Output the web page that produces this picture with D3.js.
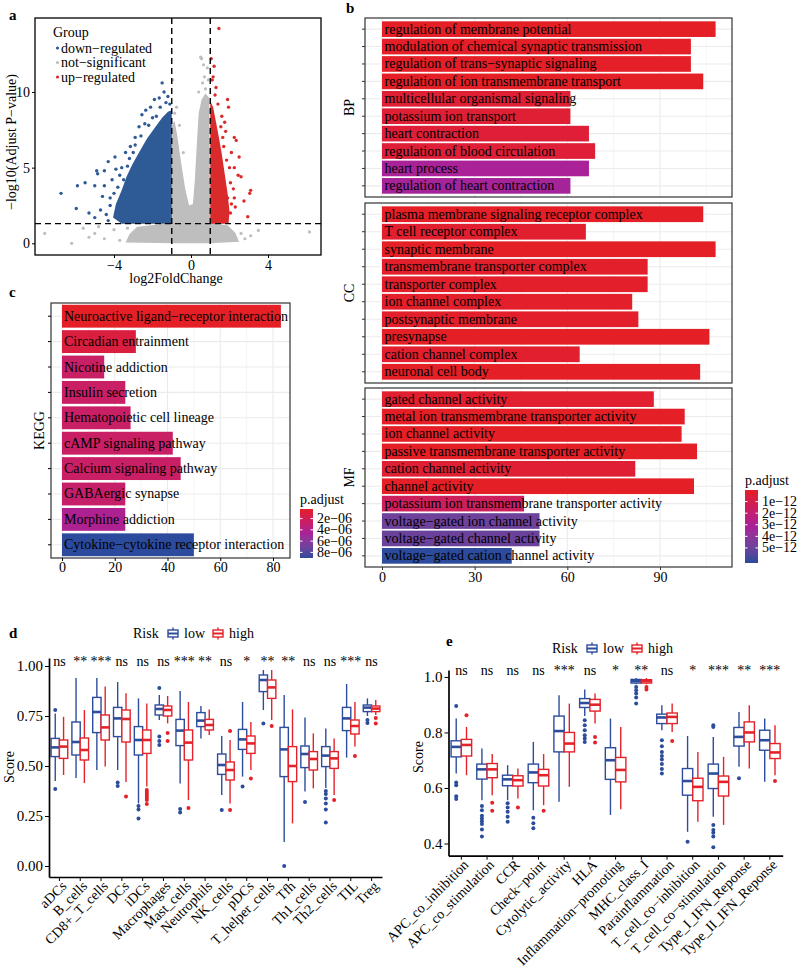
<!DOCTYPE html>
<html>
<head>
<meta charset="utf-8">
<script src="https://cdn.jsdelivr.net/npm/d3@7"></script>
<style>
  body { margin: 0; background: #fff; }
</style>
</head>
<body>
<div id="fig"></div>
<script>
// ---------- data ----------
// panel a: volcano (log2FC, -log10 padj)
var volcanoXTicks = [-4, 0, 4];
var volcanoYTicks = [0, 5, 10];
var padjCut = 1.301;
var fcCut = 1;
// dense clouds, outlined
var nsCloud = [[-3.4,0.05],[-3.2,0.6],[-2.8,1.1],[-1.0,1.35],[-1.0,7.8],[-0.85,8.1],[-0.7,7.0],[-0.5,5.2],[-0.3,3.6],[-0.1,2.5],[0.1,2.6],[0.2,4.2],[0.3,6.5],[0.4,8.6],[0.55,9.5],[0.75,9.9],[0.95,9.6],[1.0,1.35],[1.9,1.2],[2.3,0.7],[2.5,0.1],[1.0,0.0],[-1.0,0.0]];
var downCloud = [[-1.0,1.3],[-3.6,1.3],[-4.05,1.7],[-3.9,2.6],[-3.6,3.5],[-3.35,4.4],[-3.05,5.2],[-2.7,6.0],[-2.3,6.9],[-1.9,7.6],[-1.5,8.3],[-1.2,8.7],[-1.0,8.8]];
var upCloud = [[1.0,1.3],[1.0,9.4],[1.15,9.0],[1.3,8.0],[1.45,7.0],[1.6,5.9],[1.75,4.6],[1.9,3.3],[2.0,2.1],[1.95,1.3]];
// scattered points
var downPoints = [[-6.75,3.3],[-5.9,3.8],[-5.96,2.3],[-5.5,4.0],[-4.9,4.8],[-4.85,4.6],[-4.5,4.8],[-4.3,5.4],[-3.95,5.7],[-3.9,4.9],[-5.0,3.8],[-5.3,2.0],[-5.0,1.7],[-4.6,3.1],[-4.5,3.8],[-4.0,3.3],[-3.4,6.0],[-3.15,6.4],[-2.9,7.0],[-2.55,8.5],[-2.35,8.8],[-1.9,9.5],[-1.5,10.6],[-1.4,10.0],[-1.65,9.6],[-4.7,2.2],[-3.7,2.6],[-3.8,3.7],[-2.7,7.7],[-2.1,9.0],[-4.2,2.5],[-4.4,1.9],[-3.6,5.0],[-3.2,5.6],[-2.4,7.9],[-1.8,8.4],[-1.3,9.3],[-1.2,9.7],[-4.1,4.2],[-3.5,4.2],[-3.0,6.0],[-2.6,7.1],[-2.2,7.8],[-1.6,9.0],[-3.3,5.1],[-3.7,4.5],[-4.2,3.0],[-4.3,1.5],[-2.9,6.5],[-2.0,8.3],[-1.1,9.2],[-3.9,2.0]];
var upPoints = [[1.45,14.2],[1.05,12.2],[1.2,11.7],[1.3,10.3],[1.9,9.5],[1.95,9.0],[2.25,7.0],[2.35,6.8],[2.5,5.7],[2.25,5.0],[2.45,4.5],[2.6,4.4],[3.1,3.5],[3.05,3.3],[2.75,2.8],[2.95,1.75],[2.25,3.0],[2.05,4.0],[1.7,6.4],[1.55,7.7],[1.6,8.4],[2.05,2.0],[1.1,10.8],[1.4,9.2],[1.8,7.4],[2.1,6.0],[2.2,3.6],[2.3,2.4],[1.15,11.0],[1.75,8.0],[1.85,5.5],[2.0,5.0],[1.25,9.8],[1.9,3.0],[2.1,2.6],[1.65,7.0]];
var nsPoints = [[-7.6,0.65],[-6.2,0.0],[-5.6,1.0],[-5.0,0.65],[-4.5,0.3],[-4.0,0.9],[-3.7,0.2],[6.15,0.75],[3.5,0.85],[2.6,0.65],[2.3,0.2],[2.8,0.3],[0.5,12.3],[0.55,12.2],[0.85,11.6],[0.6,10.6],[-0.95,10.8],[-0.75,9.0],[-0.85,8.6],[0.7,11.0],[0.75,10.2],[0.4,10.0],[-4.8,1.1],[-3.3,1.0],[3.1,0.5],[-5.3,0.4],[0.65,11.8],[0.9,10.8],[-0.6,7.8],[-0.4,6.0]];
var groupNames = ['down\u2212regulated', 'not\u2212significant', 'up\u2212regulated'];

// panel b: GO enrichment
var bpTerms = ['regulation of membrane potential', 'modulation of chemical synaptic transmission', 'regulation of trans\u2212synaptic signaling', 'regulation of ion transmembrane transport', 'multicellular organismal signaling', 'potassium ion transport', 'heart contraction', 'regulation of blood circulation', 'heart process', 'regulation of heart contraction'];
var bpCounts = [108, 100, 100, 104, 61, 61, 67, 69, 67, 61];
var bpPadj = [1e-15, 2e-14, 2e-14, 5e-15, 3e-13, 3e-13, 4e-13, 4e-13, 3.1e-12, 3.2e-12];
var ccTerms = ['plasma membrane signaling receptor complex', 'T cell receptor complex', 'synaptic membrane', 'transmembrane transporter complex', 'transporter complex', 'ion channel complex', 'postsynaptic membrane', 'presynapse', 'cation channel complex', 'neuronal cell body'];
var ccCounts = [104, 66, 108, 86, 86, 81, 83, 106, 64, 103];
var ccPadj = [1e-14, 2e-13, 1e-15, 1e-13, 1e-13, 1e-13, 1e-13, 1e-14, 2e-13, 1e-14];
var mfTerms = ['gated channel activity', 'metal ion transmembrane transporter activity', 'ion channel activity', 'passive transmembrane transporter activity', 'cation channel activity', 'channel activity', 'potassium ion transmembrane transporter activity', 'voltage\u2212gated ion channel activity', 'voltage\u2212gated channel activity', 'voltage\u2212gated cation channel activity'];
var mfCounts = [88, 98, 97, 102, 82, 101, 46, 51, 51, 42];
var mfPadj = [2e-13, 1e-14, 1e-14, 1e-14, 3e-13, 1e-14, 1.4e-12, 4.9e-12, 5.0e-12, 6.3e-12];
var goCountTicks = [0, 30, 60, 90];
var goPadjTicks = [1e-12, 2e-12, 3e-12, 4e-12, 5e-12];
var goPadjLabels = ['1e\u221212', '2e\u221212', '3e\u221212', '4e\u221212', '5e\u221212'];

// panel c: KEGG
var keggTerms = ['Neuroactive ligand\u2212receptor interaction', 'Circadian entrainment', 'Nicotine addiction', 'Insulin secretion', 'Hematopoietic cell lineage', 'cAMP signaling pathway', 'Calcium signaling pathway', 'GABAergic synapse', 'Morphine addiction', 'Cytokine\u2212cytokine receptor interaction'];
var keggCounts = [83, 28, 16, 24, 26, 42, 45, 24, 24, 50];
var keggPadj = [3e-7, 1.2e-6, 2.6e-6, 2.6e-6, 2.6e-6, 2.6e-6, 2.6e-6, 2.8e-6, 4.3e-6, 9.0e-6];
var keggCountTicks = [0, 20, 40, 60, 80];
var keggPadjTicks = [2e-6, 4e-6, 6e-6, 8e-6];
var keggPadjLabels = ['2e\u221206', '4e\u221206', '6e\u221206', '8e\u221206'];

// panel d: immune cells, [lower whisker, q1, median, q3, upper whisker, outliers]
var cellTypes = ['aDCs', 'B_cells', 'CD8+_T_cells', 'DCs', 'iDCs', 'Macrophages', 'Mast_cells', 'Neutrophils', 'NK_cells', 'pDCs', 'T_helper_cells', 'Tfh', 'Th1_cells', 'Th2_cells', 'TIL', 'Treg'];
var cellSig = ['ns', '**', '***', 'ns', 'ns', 'ns', '***', '**', 'ns', '*', '**', '**', 'ns', 'ns', '***', 'ns'];
var cellLow = [
  [0.425, 0.547, 0.593, 0.638, 0.763, [0.78, 0.385]],
  [0.44, 0.555, 0.62, 0.72, 0.94, []],
  [0.48, 0.667, 0.77, 0.843, 0.94, []],
  [0.48, 0.647, 0.738, 0.793, 0.92, [0.418, 0.40]],
  [0.313, 0.555, 0.63, 0.697, 0.838, [0.30, 0.283, 0.238]],
  [0.73, 0.755, 0.785, 0.805, 0.855, [0.89, 0.647, 0.625, 0.605]],
  [0.413, 0.602, 0.677, 0.733, 0.875, [0.285, 0.267]],
  [0.638, 0.697, 0.727, 0.767, 0.80, []],
  [0.355, 0.458, 0.505, 0.56, 0.65, [0.28]],
  [0.447, 0.583, 0.633, 0.683, 0.82, [0.397]],
  [0.78, 0.872, 0.93, 0.955, 0.98, [0.713]],
  [0.12, 0.447, 0.583, 0.693, 0.855, [0.0]],
  [0.372, 0.492, 0.56, 0.60, 0.742, [0.32]],
  [0.39, 0.497, 0.552, 0.597, 0.688, [0.375, 0.36, 0.338, 0.313, 0.283, 0.218]],
  [0.542, 0.677, 0.738, 0.793, 0.91, []],
  [0.75, 0.772, 0.792, 0.805, 0.838, [0.73, 0.715]]
];
var cellHigh = [
  [0.455, 0.538, 0.597, 0.63, 0.746, []],
  [0.415, 0.53, 0.58, 0.64, 0.78, []],
  [0.497, 0.63, 0.693, 0.755, 0.897, []],
  [0.42, 0.62, 0.735, 0.78, 0.864, [0.347]],
  [0.397, 0.563, 0.63, 0.68, 0.813, [0.38, 0.37, 0.36, 0.35, 0.34, 0.33, 0.31]],
  [0.713, 0.75, 0.78, 0.80, 0.85, [0.665, 0.625]],
  [0.33, 0.53, 0.617, 0.68, 0.82, [0.29]],
  [0.655, 0.68, 0.705, 0.733, 0.783, []],
  [0.313, 0.43, 0.48, 0.52, 0.63, [0.675, 0.28]],
  [0.48, 0.563, 0.613, 0.65, 0.72, [0.438]],
  [0.73, 0.838, 0.893, 0.93, 0.98, [0.70]],
  [0.213, 0.422, 0.50, 0.597, 0.783, []],
  [0.388, 0.48, 0.535, 0.572, 0.663, []],
  [0.355, 0.488, 0.538, 0.572, 0.638, [0.33]],
  [0.597, 0.66, 0.70, 0.73, 0.82, [0.55]],
  [0.755, 0.772, 0.787, 0.80, 0.83, [0.74, 0.712]]
];
var cellTicks = [0, 0.25, 0.5, 0.75, 1];

// panel e: immune functions
var funcNames = ['APC_co_inhibition', 'APC_co_stimulation', 'CCR', 'Check\u2212point', 'Cytolytic_activity', 'HLA', 'Inflammation\u2212promoting', 'MHC_class_I', 'Parainflammation', 'T_cell_co\u2212inhibition', 'T_cell_co\u2212stimulation', 'Type_I_IFN_Reponse', 'Type_II_IFN_Reponse'];
var funcSig = ['ns', 'ns', 'ns', 'ns', '***', 'ns', '*', '**', 'ns', '*', '***', '**', '***'];
var funcLow = [
  [0.652, 0.712, 0.748, 0.77, 0.85, [0.895, 0.62, 0.61, 0.57, 0.56]],
  [0.556, 0.632, 0.667, 0.686, 0.742, [0.535, 0.52, 0.50, 0.49, 0.48, 0.47, 0.45, 0.425]],
  [0.556, 0.608, 0.631, 0.646, 0.682, [0.545, 0.53, 0.514, 0.496, 0.478]],
  [0.52, 0.619, 0.656, 0.686, 0.766, [0.493, 0.473, 0.455]],
  [0.55, 0.73, 0.805, 0.859, 0.934, []],
  [0.859, 0.89, 0.906, 0.922, 0.955, [0.844, 0.826, 0.808, 0.79, 0.778, 0.766]],
  [0.503, 0.631, 0.70, 0.745, 0.85, []],
  [0.974, 0.978, 0.985, 0.991, 0.996, [0.964, 0.952, 0.94, 0.926, 0.904]],
  [0.808, 0.832, 0.854, 0.866, 0.898, [0.772, 0.75, 0.73, 0.715, 0.703, 0.686, 0.668, 0.652]],
  [0.442, 0.574, 0.625, 0.67, 0.787, [0.406]],
  [0.496, 0.598, 0.652, 0.686, 0.784, [0.826, 0.82, 0.467, 0.449, 0.439, 0.425, 0.386]],
  [0.676, 0.751, 0.784, 0.818, 0.874, [0.635]],
  [0.622, 0.736, 0.772, 0.808, 0.85, []]
];
var funcHigh = [
  [0.646, 0.715, 0.755, 0.775, 0.82, [0.862]],
  [0.574, 0.637, 0.667, 0.688, 0.722, [0.547, 0.518]],
  [0.562, 0.607, 0.628, 0.644, 0.67, [0.53]],
  [0.538, 0.607, 0.646, 0.667, 0.722, [0.518]],
  [0.604, 0.73, 0.76, 0.80, 0.904, []],
  [0.832, 0.877, 0.90, 0.919, 0.94, [0.784, 0.764]],
  [0.523, 0.622, 0.665, 0.71, 0.82, []],
  [0.974, 0.978, 0.985, 0.99, 0.996, [0.964, 0.955]],
  [0.802, 0.832, 0.856, 0.87, 0.904, [0.769]],
  [0.478, 0.554, 0.604, 0.635, 0.73, []],
  [0.467, 0.571, 0.622, 0.643, 0.712, []],
  [0.67, 0.766, 0.80, 0.838, 0.898, []],
  [0.646, 0.706, 0.728, 0.76, 0.826, [0.625]]
];
var funcTicks = [0.4, 0.6, 0.8, 1.0];

// ---------- setup ----------
var FONT = '"Liberation Serif", "Times New Roman", Times, serif';
var volRed = '#D92B2B', volBlue = '#2E5A95', volGrey = '#BEBEBE';
var boxRed = '#E4222A', boxBlue = '#2C4C9C';
var grid = '#EBEBEB';
// p.adjust fill: red (small) -> purple -> blue (large)
var padjPalette = d3.piecewise(d3.interpolateLab, ['#E41F26', '#A8229A', '#2C4B9C']);

var svg = d3.select('#fig').append('svg')
  .attr('width', 800)
  .attr('height', 970)
  .attr('font-family', FONT);
svg.append('rect').attr('width', 800).attr('height', 970).attr('fill', '#fff');

function txt(g, x, y, s, size) {
  return g.append('text').attr('x', x).attr('y', y).attr('font-size', size || 14)
    .attr('fill', '#000').text(s);
}
function styleAxis(g, size) {
  g.attr('font-family', FONT).attr('font-size', size);
  g.selectAll('text').attr('fill', '#000');
  g.selectAll('line').attr('stroke', '#000');
}
function panelLetter(s, x, y) {
  txt(svg, x, y, s, 15).attr('font-weight', 'bold');
}

// ---------- panel a ----------
panelLetter('a', 9, 20);
var vx = d3.scaleLinear().domain([-4, 4]).range([114, 268]);
var vy = d3.scaleLinear().domain([0, 10]).range([243.3, 92]);
var aL = 35, aR = 321, aT = 18, aB = 255;
svg.append('clipPath').attr('id', 'clipA').append('rect')
  .attr('x', aL).attr('y', aT).attr('width', aR - aL).attr('height', aB - aT);
var plotA = svg.append('g').attr('clip-path', 'url(#clipA)');

var cloudPath = d3.line()
  .x(function (d) { return vx(d[0]); })
  .y(function (d) { return vy(d[1]); })
  .curve(d3.curveLinearClosed);

plotA.append('path').datum(nsCloud).attr('d', cloudPath).attr('fill', volGrey);
plotA.selectAll('.ns').data(nsPoints).enter().append('circle')
  .attr('cx', function (d) { return vx(d[0]); })
  .attr('cy', function (d) { return vy(d[1]); })
  .attr('r', 1.6).attr('fill', volGrey);
plotA.append('path').datum(downCloud).attr('d', cloudPath).attr('fill', volBlue);
plotA.selectAll('.dn').data(downPoints).enter().append('circle')
  .attr('cx', function (d) { return vx(d[0]); })
  .attr('cy', function (d) { return vy(d[1]); })
  .attr('r', 1.7).attr('fill', volBlue);
plotA.append('path').datum(upCloud).attr('d', cloudPath).attr('fill', volRed);
plotA.selectAll('.up').data(upPoints).enter().append('circle')
  .attr('cx', function (d) { return vx(d[0]); })
  .attr('cy', function (d) { return vy(d[1]); })
  .attr('r', 1.7).attr('fill', volRed);

// threshold lines
[-fcCut, fcCut].forEach(function (v) {
  plotA.append('line').attr('x1', vx(v)).attr('x2', vx(v)).attr('y1', aT).attr('y2', aB)
    .attr('stroke', '#000').attr('stroke-width', 1.4).attr('stroke-dasharray', '6,4');
});
plotA.append('line').attr('x1', aL).attr('x2', aR).attr('y1', vy(padjCut)).attr('y2', vy(padjCut))
  .attr('stroke', '#000').attr('stroke-width', 1.4).attr('stroke-dasharray', '6,4');

svg.append('rect').attr('x', aL).attr('y', aT).attr('width', aR - aL).attr('height', aB - aT)
  .attr('fill', 'none').attr('stroke', '#000').attr('stroke-width', 1.3);

var axA1 = svg.append('g').attr('transform', 'translate(0,' + aB + ')')
  .call(d3.axisBottom(vx).tickValues(volcanoXTicks).tickSize(3).tickPadding(2));
axA1.select('.domain').remove();
styleAxis(axA1, 14);
var axA2 = svg.append('g').attr('transform', 'translate(' + aL + ',0)')
  .call(d3.axisLeft(vy).tickValues(volcanoYTicks).tickSize(3).tickPadding(2));
axA2.select('.domain').remove();
styleAxis(axA2, 14);

txt(svg, 176, 283, 'log2FoldChange', 14).attr('text-anchor', 'middle');
txt(svg, 0, 0, '\u2212log10(Adjust P\u2212value)', 14)
  .attr('text-anchor', 'middle')
  .attr('transform', 'translate(16,142) rotate(-90)');

// legend
txt(svg, 53, 37, 'Group', 14);
var volColors = [volBlue, volGrey, volRed];
groupNames.forEach(function (n, i) {
  var yy = 48 + i * 14.5;
  svg.append('circle').attr('cx', 57.5).attr('cy', yy).attr('r', 1.6).attr('fill', volColors[i]);
  txt(svg, 61, yy, n, 14).attr('dominant-baseline', 'central');
});

// ---------- panel b ----------
panelLetter('b', 346, 13);
var goX = d3.scaleLinear().domain([0, 90]).range([382, 660]);
var goL = 365, goR = 732;
var goAll = bpPadj.concat(ccPadj, mfPadj);
var goMin = 0, goMax = d3.max(goAll);
function goColor(p) { return padjPalette((p - goMin) / (goMax - goMin)); }

var goFacets = [
  { name: 'BP', terms: bpTerms, counts: bpCounts, padj: bpPadj, top: 18, bottom: 197 },
  { name: 'CC', terms: ccTerms, counts: ccCounts, padj: ccPadj, top: 203, bottom: 383 },
  { name: 'MF', terms: mfTerms, counts: mfCounts, padj: mfPadj, top: 388, bottom: 567 }
];

goFacets.forEach(function (f) {
  var y = d3.scaleBand().domain(f.terms).range([f.top, f.bottom]).paddingInner(0.1).paddingOuter(0.19);
  var g = svg.append('g');
  var rows = f.terms.map(function (t, i) { return { term: t, count: f.counts[i], padj: f.padj[i] }; });
  // grid
  [15, 45, 75, 105].forEach(function (v) {
    g.append('line').attr('x1', goX(v)).attr('x2', goX(v)).attr('y1', f.top).attr('y2', f.bottom)
      .attr('stroke', '#F3F3F3').attr('stroke-width', 0.8);
  });
  goCountTicks.forEach(function (v) {
    g.append('line').attr('x1', goX(v)).attr('x2', goX(v)).attr('y1', f.top).attr('y2', f.bottom)
      .attr('stroke', grid).attr('stroke-width', 1.1);
  });
  g.selectAll('.hg').data(rows).enter().append('line')
    .attr('x1', goL).attr('x2', goR)
    .attr('y1', function (d) { return y(d.term) + y.bandwidth() / 2; })
    .attr('y2', function (d) { return y(d.term) + y.bandwidth() / 2; })
    .attr('stroke', grid).attr('stroke-width', 1.1);
  // bars
  g.selectAll('.bar').data(rows).enter().append('rect')
    .attr('x', goX(0))
    .attr('y', function (d) { return y(d.term); })
    .attr('width', function (d) { return goX(d.count) - goX(0); })
    .attr('height', y.bandwidth())
    .attr('fill', function (d) { return goColor(d.padj); });
  g.selectAll('.lab').data(rows).enter().append('text')
    .attr('x', goX(0) + 2.5)
    .attr('y', function (d) { return y(d.term) + y.bandwidth() / 2; })
    .attr('dominant-baseline', 'central')
    .attr('font-size', 14).attr('fill', '#000')
    .text(function (d) { return d.term; });
  g.append('rect').attr('x', goL).attr('y', f.top).attr('width', goR - goL).attr('height', f.bottom - f.top)
    .attr('fill', 'none').attr('stroke', '#333').attr('stroke-width', 1.2);
  var ax = g.append('g').attr('transform', 'translate(' + goL + ',0)')
    .call(d3.axisLeft(y).tickSize(3).tickFormat(''));
  ax.select('.domain').remove();
  ax.selectAll('text').remove();
  styleAxis(ax, 14);
  ax.selectAll('line').attr('stroke', '#333');
  txt(g, 0, 0, f.name, 14).attr('text-anchor', 'middle')
    .attr('transform', 'translate(354,' + ((f.top + f.bottom) / 2) + ') rotate(-90)');
});
var axB = svg.append('g').attr('transform', 'translate(0,567)')
  .call(d3.axisBottom(goX).tickValues(goCountTicks).tickSize(3).tickPadding(2));
axB.select('.domain').remove();
styleAxis(axB, 14);
axB.selectAll('line').attr('stroke', '#333');

// colour bar helper
function colorBar(id, x, y0, y1, ticks, labels, scaleY) {
  var grad = svg.append('defs').append('linearGradient').attr('id', id)
    .attr('x1', 0).attr('x2', 0).attr('y1', 0).attr('y2', 1);
  d3.range(0, 1.0001, 0.1).forEach(function (t) {
    grad.append('stop').attr('offset', t).attr('stop-color', padjPalette(t));
  });
  svg.append('rect').attr('x', x).attr('y', y0).attr('width', 13).attr('height', y1 - y0)
    .attr('fill', 'url(#' + id + ')');
  ticks.forEach(function (v, i) {
    var yy = scaleY(v);
    svg.append('line').attr('x1', x).attr('x2', x + 2.5).attr('y1', yy).attr('y2', yy).attr('stroke', '#fff');
    svg.append('line').attr('x1', x + 10.5).attr('x2', x + 13).attr('y1', yy).attr('y2', yy).attr('stroke', '#fff');
    txt(svg, x + 17, yy + 4.5, labels[i], 14);
  });
  txt(svg, x, y0 - 5, 'p.adjust', 14);
}
var goLegY = d3.scaleLinear().domain([goMin, goMax]).range([490, 563]);
colorBar('goGrad', 745, 490, 563, goPadjTicks, goPadjLabels, goLegY);

// ---------- panel c ----------
panelLetter('c', 9, 297);
var kx = d3.scaleLinear().domain([0, 80]).range([62, 273]);
var kL = 51, kR = 290, kT = 303, kB = 558;
var ky = d3.scaleBand().domain(keggTerms).range([kT, kB]).paddingInner(0.1).paddingOuter(0.07);
var kMin = d3.min(keggPadj), kMax = d3.max(keggPadj);
function keggColor(p) { return padjPalette((p - kMin) / (kMax - kMin)); }
var keggRows = keggTerms.map(function (t, i) { return { term: t, count: keggCounts[i], padj: keggPadj[i] }; });
var gc = svg.append('g');
[10, 30, 50, 70].forEach(function (v) {
  gc.append('line').attr('x1', kx(v)).attr('x2', kx(v)).attr('y1', kT).attr('y2', kB)
    .attr('stroke', '#F3F3F3').attr('stroke-width', 0.8);
});
keggCountTicks.forEach(function (v) {
  gc.append('line').attr('x1', kx(v)).attr('x2', kx(v)).attr('y1', kT).attr('y2', kB)
    .attr('stroke', grid).attr('stroke-width', 1.1);
});
gc.selectAll('.hg').data(keggRows).enter().append('line')
  .attr('x1', kL).attr('x2', kR)
  .attr('y1', function (d) { return ky(d.term) + ky.bandwidth() / 2; })
  .attr('y2', function (d) { return ky(d.term) + ky.bandwidth() / 2; })
  .attr('stroke', grid).attr('stroke-width', 1.1);
gc.selectAll('.bar').data(keggRows).enter().append('rect')
  .attr('x', kx(0))
  .attr('y', function (d) { return ky(d.term); })
  .attr('width', function (d) { return kx(d.count) - kx(0); })
  .attr('height', ky.bandwidth())
  .attr('fill', function (d) { return keggColor(d.padj); });
gc.selectAll('.lab').data(keggRows).enter().append('text')
  .attr('x', kx(0) + 2)
  .attr('y', function (d) { return ky(d.term) + ky.bandwidth() / 2; })
  .attr('dominant-baseline', 'central')
  .attr('font-size', 14).attr('fill', '#000')
  .text(function (d) { return d.term; });
gc.append('rect').attr('x', kL).attr('y', kT).attr('width', kR - kL).attr('height', kB - kT)
  .attr('fill', 'none').attr('stroke', '#333').attr('stroke-width', 1.2);
var axC1 = gc.append('g').attr('transform', 'translate(' + kL + ',0)')
  .call(d3.axisLeft(ky).tickSize(3).tickFormat(''));
axC1.select('.domain').remove();
axC1.selectAll('text').remove();
styleAxis(axC1, 14);
var axC2 = gc.append('g').attr('transform', 'translate(0,' + kB + ')')
  .call(d3.axisBottom(kx).tickValues(keggCountTicks).tickSize(3).tickPadding(1));
axC2.select('.domain').remove();
styleAxis(axC2, 14);
txt(gc, 0, 0, 'KEGG', 14).attr('text-anchor', 'middle')
  .attr('transform', 'translate(44,' + ((kT + kB) / 2) + ') rotate(-90)');
var kLegY = d3.scaleLinear().domain([kMin, kMax]).range([509, 558]);
colorBar('keggGrad', 300, 509, 558, keggPadjTicks, keggPadjLabels, kLegY);

// ---------- panels d and e : boxplots ----------
function legendIcon(x, yc, color) {
  svg.append('line').attr('x1', x + 5).attr('x2', x + 5).attr('y1', yc - 6).attr('y2', yc + 6)
    .attr('stroke', color).attr('stroke-width', 1.4);
  svg.append('rect').attr('x', x).attr('y', yc - 3.5).attr('width', 10).attr('height', 7)
    .attr('fill', '#fff').attr('stroke', color).attr('stroke-width', 1.4);
  svg.append('line').attr('x1', x).attr('x2', x + 10).attr('y1', yc).attr('y2', yc)
    .attr('stroke', color).attr('stroke-width', 2);
}

function drawBoxes(g, x, y, cats, stats, side, color) {
  var step = x.step();
  var w = step * 0.4;
  cats.forEach(function (c, i) {
    var s = stats[i];
    var cx = x(c) + step / 2 + side * step * 0.2;
    g.append('line').attr('x1', cx).attr('x2', cx).attr('y1', y(s[4])).attr('y2', y(s[3]))
      .attr('stroke', color).attr('stroke-width', 1.4);
    g.append('line').attr('x1', cx).attr('x2', cx).attr('y1', y(s[1])).attr('y2', y(s[0]))
      .attr('stroke', color).attr('stroke-width', 1.4);
    g.append('rect').attr('x', cx - w / 2).attr('y', y(s[3])).attr('width', w)
      .attr('height', y(s[1]) - y(s[3]))
      .attr('fill', '#fff').attr('stroke', color).attr('stroke-width', 1.4);
    g.append('line').attr('x1', cx - w / 2).attr('x2', cx + w / 2).attr('y1', y(s[2])).attr('y2', y(s[2]))
      .attr('stroke', color).attr('stroke-width', 2.6);
    g.selectAll(null).data(s[5]).enter().append('circle')
      .attr('cx', cx).attr('cy', function (d) { return y(d); })
      .attr('r', 2).attr('fill', color);
  });
}

function boxPanel(o) {
  var g = svg.append('g');
  var x = d3.scaleBand().domain(o.cats).range([o.left, o.right]).padding(0);
  var y = d3.scaleLinear().domain(o.yDomain).range([o.bottom, o.top]);
  drawBoxes(g, x, y, o.cats, o.low, -1, boxBlue);
  drawBoxes(g, x, y, o.cats, o.high, 1, boxRed);
  g.selectAll('.sig').data(o.cats).enter().append('text')
    .attr('x', function (d) { return x(d) + x.step() / 2; })
    .attr('y', o.sigY)
    .attr('text-anchor', 'middle').attr('font-size', 14).attr('fill', '#000')
    .text(function (d, i) { return o.sig[i]; });
  var ay = g.append('g').attr('transform', 'translate(' + o.left + ',0)')
    .call(d3.axisLeft(y).tickValues(o.ticks).tickFormat(d3.format(o.fmt)).tickSize(4).tickSizeOuter(0).tickPadding(2));
  styleAxis(ay, 15);
  ay.select('.domain').attr('stroke', '#000').attr('stroke-width', 1.7);
  var ax = g.append('g').attr('transform', 'translate(0,' + o.bottom + ')')
    .call(d3.axisBottom(x).tickSize(4).tickSizeOuter(0));
  styleAxis(ax, 14);
  ax.select('.domain').attr('stroke', '#000').attr('stroke-width', 1.7);
  ax.selectAll('.tick text')
    .attr('text-anchor', 'end')
    .attr('dy', '0.7em')
    .attr('y', 0).attr('x', 0)
    .attr('transform', 'translate(1,3) rotate(-45)');
  txt(g, 0, 0, 'Score', 14).attr('text-anchor', 'middle')
    .attr('transform', 'translate(' + o.titleX + ',' + o.titleY + ') rotate(-90)');
  // legend
  txt(svg, o.legX, o.legY, 'Risk', 14);
  legendIcon(o.legX + 35, o.legY - 4.5, boxBlue);
  txt(svg, o.legX + 51, o.legY, 'low', 14);
  legendIcon(o.legX + 80, o.legY - 4.5, boxRed);
  txt(svg, o.legX + 96, o.legY, 'high', 14);
}

panelLetter('d', 9, 638);
boxPanel({
  cats: cellTypes, sig: cellSig, low: cellLow, high: cellHigh,
  left: 49, right: 382, top: 658, bottom: 877, yDomain: [-0.055, 1.04],
  ticks: cellTicks, fmt: '.2f', sigY: 666, titleX: 14, titleY: 767,
  legX: 133, legY: 638
});

panelLetter('e', 446, 646);
boxPanel({
  cats: funcNames, sig: funcSig, low: funcLow, high: funcHigh,
  left: 448.5, right: 782.7, top: 670, bottom: 855.7, yDomain: [0.356, 1.025],
  ticks: funcTicks, fmt: '.1f', sigY: 675, titleX: 423, titleY: 757,
  legX: 552, legY: 653
});
</script>
</body>
</html>
